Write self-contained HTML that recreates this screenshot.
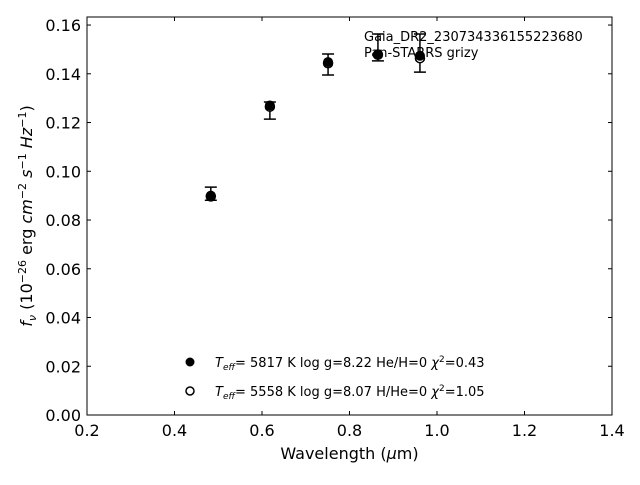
<!DOCTYPE html>
<html><head><meta charset="utf-8"><style>
body{margin:0;background:#fff;}
svg{font-family:"DejaVu Sans","Liberation Sans",sans-serif;}
</style></head><body>
<svg id="chart" width="640" height="480" xmlns="http://www.w3.org/2000/svg">
<rect width="640" height="480" fill="#fff"/>
<g id="marks"></g>
<rect x="87" y="17" width="525" height="398" fill="none" stroke="#000" stroke-width="1"/>
<text x="349.5" y="459" font-size="16" text-anchor="middle">Wavelength (<tspan font-style="italic">μ</tspan>m)</text>
<text transform="translate(32,216) rotate(-90)" font-size="16" text-anchor="middle"><tspan font-style="italic">f<tspan font-size="11" dy="4">ν</tspan></tspan><tspan dy="-4"> (10</tspan><tspan font-size="11" dy="-6">−26</tspan><tspan dy="6"> erg </tspan><tspan font-style="italic">cm</tspan><tspan font-size="11" dy="-6">−2</tspan><tspan dy="6"> </tspan><tspan font-style="italic">s</tspan><tspan font-size="11" dy="-6">−1</tspan><tspan dy="6"> </tspan><tspan font-style="italic">Hz</tspan><tspan font-size="11" dy="-6">−1</tspan><tspan dy="6">)</tspan></text>
<text x="364" y="41" font-size="13">Gaia_DR2_2307343361552236​80</text>
<text x="364" y="57" font-size="13">Pan-STARRS grizy</text>
<g>
<circle cx="190" cy="362" r="4.5" fill="#000"/>
<text x="215" y="367" font-size="13"><tspan font-style="italic">T<tspan font-size="9" dy="3">eff</tspan></tspan><tspan dy="-3">=  5817 K  log g=8.22  He/H=0  </tspan><tspan font-style="italic">χ</tspan><tspan font-size="9" dy="-5">2</tspan><tspan dy="5">=0.43</tspan></text>
<circle cx="190" cy="391" r="4" fill="#fff" stroke="#000" stroke-width="1.5"/>
<text x="215" y="396" font-size="13"><tspan font-style="italic">T<tspan font-size="9" dy="3">eff</tspan></tspan><tspan dy="-3">=  5558 K  log g=8.07  H/He=0  </tspan><tspan font-style="italic">χ</tspan><tspan font-size="9" dy="-5">2</tspan><tspan dy="5">=1.05</tspan></text>
</g>
</svg>
<script>
const wavelengths=[0.483,0.618,0.751,0.865,0.961];
const observedFlux=[0.0908,0.1249,0.1438,0.1508,0.1485];
const observedErr=[0.0027,0.0035,0.0043,0.0055,0.0078];
const modelHFlux=[0.0900,0.1270,0.1448,0.1480,0.1474];
const modelHeFlux=[0.0897,0.1265,0.1443,0.1478,0.1464];
const xTicks=[0.2,0.4,0.6,0.8,1.0,1.2,1.4];
const yTicks=[0,0.02,0.04,0.06,0.08,0.10,0.12,0.14,0.16];
const xTickLabels=["0.2","0.4","0.6","0.8","1.0","1.2","1.4"];
const yTickLabels=["0.00","0.02","0.04","0.06","0.08","0.10","0.12","0.14","0.16"];
const X0=87,X1=612,Y0=415,Y1=17,XMIN=0.2,XMAX=1.4,YMIN=0,YMAX=0.1633;
const sx=v=>X0+(v-XMIN)/(XMAX-XMIN)*(X1-X0);
const sy=v=>Y0-(v-YMIN)/(YMAX-YMIN)*(Y0-Y1);
const NS="http://www.w3.org/2000/svg";
const g=document.getElementById('marks');
function mk(tag,attrs){const e=document.createElementNS(NS,tag);for(const k in attrs)e.setAttribute(k,attrs[k]);g.appendChild(e);return e;}
xTicks.forEach((t,i)=>{
  const x=sx(t);
  let e=mk('line',{x1:x,x2:x,y1:Y0,y2:Y0-4,stroke:'#000'});
  
  
  e=mk('line',{x1:x,x2:x,y1:Y1,y2:Y1+4,stroke:'#000'});
  
  
  e=mk('text',{x:x,y:Y0+21,'font-size':16,'text-anchor':'middle'});
  e.textContent=xTickLabels[i];
  
  
});
yTicks.forEach((t,i)=>{
  const y=sy(t);
  let e=mk('line',{x1:X0,x2:X0+4,y1:y,y2:y,stroke:'#000'});
  
  
  e=mk('line',{x1:X1,x2:X1-4,y1:y,y2:y,stroke:'#000'});
  
  
  e=mk('text',{x:X0-6,y:y+6,'font-size':16,'text-anchor':'end'});
  e.textContent=yTickLabels[i];
  
  
});
wavelengths.forEach((w,i)=>{
  const x=sx(w),yt=sy(observedFlux[i]+observedErr[i]),yb=sy(observedFlux[i]-observedErr[i]);
  let e=mk('path',{d:`M${x},${yt}V${yb}M${x-6},${yt}H${x+6}M${x-6},${yb}H${x+6}`,stroke:'#000','stroke-width':1.5,fill:'none'});
  
  
  e=mk('circle',{cx:x,cy:sy(modelHeFlux[i]),r:4.5,fill:'#fff',stroke:'#000','stroke-width':1.5});
  
  
  e=mk('circle',{cx:x,cy:sy(modelHFlux[i]),r:5,fill:'#000'});
  
  
});
</script>
</body></html>
